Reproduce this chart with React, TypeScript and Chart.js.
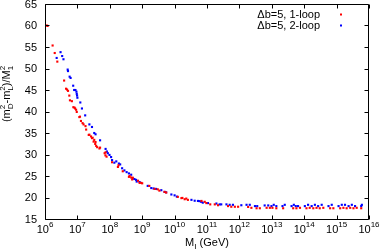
import React, { useEffect, useRef } from "react";
import { Chart, registerables } from "chart.js";

Chart.register(...registerables);

// log10(M_I / GeV) and (mD^2 - mL^2)/M1^2 for the 1-loop series
const oneLoopLogM = [
  6.05, 6.08, 6.235, 6.3, 6.38, 6.59, 6.65, 6.68, 6.71, 6.75, 6.77, 6.83, 6.875, 6.91, 6.93, 6.96, 6.98,
  7.06, 7.08, 7.11, 7.16, 7.19, 7.25, 7.27, 7.35, 7.37, 7.42, 7.45, 7.47, 7.5, 7.52, 7.55, 7.56, 7.58,
  7.61, 7.68, 7.7, 7.84, 7.865, 7.87, 7.9, 8.07, 8.25, 8.27, 8.4, 8.59, 8.61, 8.66, 8.69, 8.71, 8.87,
  8.92, 8.97, 9.0, 9.22, 9.38, 9.48, 9.53, 9.69, 9.74, 10.1, 10.21, 10.24, 10.31, 10.36, 10.41, 10.83,
  10.93, 10.98, 11.1, 11.24, 11.34, 11.65, 11.75, 11.86, 11.96, 12.27, 12.37, 12.53, 12.63, 12.84,
  12.94, 13.02, 13.14, 13.35, 13.66, 13.76, 13.87, 14.07, 14.17, 14.28, 14.38, 14.48, 14.59, 14.8,
  14.9, 15.11, 15.21, 15.31, 15.42, 15.52, 15.62, 15.76,
];
const oneLoopY = [
  60.0, 59.9, 55.35, 53.6, 51.6, 47.2, 45.3, 45.1, 44.8, 43.7, 42.6, 42.4, 41.0, 40.9, 40.7, 40.4, 39.9,
  38.7, 38.8, 37.8, 37.3, 37.0, 36.6, 35.8, 34.55, 34.6, 34.2, 33.8, 33.9, 33.0, 33.4, 32.45, 32.9, 32.0,
  31.7, 31.4, 31.6, 30.3, 29.8, 30.5, 29.5, 28.2, 27.1, 27.5, 26.1, 24.8, 25.0, 24.65, 24.2, 24.6, 23.9,
  23.4, 23.4, 23.3, 22.7, 22.0, 21.9, 21.6, 21.3, 21.15, 20.15, 19.85, 19.9, 19.6, 19.75, 19.45, 19.2,
  19.0, 18.7, 18.4, 18.4, 18.2, 18.0, 17.85, 17.85, 17.85, 17.8, 17.6, 17.5, 17.5, 17.6,
  17.6, 17.6, 17.5, 17.5, 17.5, 17.5, 17.6, 17.5, 17.6, 17.5, 17.6, 17.5, 17.6, 17.5,
  17.5, 17.5, 17.6, 17.5, 17.6, 17.5, 17.6, 17.5,
];

// 2-loop series
const twoLoopLogM = [
  6.36, 6.48, 6.53, 6.57, 6.7, 6.71, 6.76, 6.79, 6.87, 6.9, 6.94, 6.97, 6.98, 6.99, 7.0, 7.09, 7.14,
  7.24, 7.37, 7.45, 7.52, 7.56, 7.7, 7.87, 7.91, 7.94, 7.99, 8.04, 8.07, 8.14, 8.2, 8.28, 8.32, 8.38,
  8.45, 8.52, 8.59, 8.66, 8.71, 8.76, 8.81, 8.83, 8.92, 9.17, 9.28, 9.35, 9.43, 9.59, 9.69, 9.74, 9.9,
  10.0, 10.07, 10.52, 10.62, 10.72, 10.77, 10.82, 10.87, 11.03, 11.29, 11.39, 11.44, 11.6, 11.7, 11.8,
  12.06, 12.22, 12.32, 12.48, 12.55, 12.78, 12.89, 12.99, 13.06, 13.14, 13.33, 13.4, 13.61, 13.68,
  13.74, 13.81, 14.02, 14.12, 14.23, 14.33, 14.43, 14.54, 14.75, 14.85, 15.06, 15.16, 15.26, 15.37,
  15.47, 15.57, 15.76, 15.78,
];
const twoLoopY = [
  52.45, 53.8, 52.9, 52.15, 49.75, 49.4, 48.1, 47.8, 46.0, 45.0, 45.0, 44.6, 44.1, 43.7, 43.2, 42.1, 40.7,
  39.1, 37.0, 36.4, 35.0, 34.7, 33.3, 31.3, 30.7, 30.3, 29.9, 29.4, 28.7, 28.1, 28.4, 27.9, 27.7, 26.8,
  26.3, 25.9, 25.6, 25.3, 24.4, 24.3, 24.1, 23.7, 23.6, 22.7, 22.2, 22.1, 22.0, 21.7, 21.3, 21.2, 20.7,
  20.5, 20.2, 19.45, 19.25, 19.2, 19.15, 19.0, 18.8, 18.7, 18.6, 18.4, 18.4, 18.4, 18.3, 18.3,
  18.2, 18.3, 18.3, 18.0, 18.0, 18.15, 18.15, 18.0, 18.3, 18.0, 18.0, 18.3, 18.0, 18.3,
  18.0, 18.0, 18.0, 18.3, 18.0, 18.3, 18.0, 18.3, 18.0, 18.3, 18.0, 18.3, 18.3, 18.0,
  18.3, 18.0, 18.0, 18.3,
];

const xDecades = [6, 7, 8, 9, 10, 11, 12, 13, 14, 15, 16];
const yTicks = [15, 20, 25, 30, 35, 40, 45, 50, 55, 60, 65];
const seriesLabels = ["\u0394b=5, 1-loop", "\u0394b=5, 2-loop"];
const seriesColors = ["#ff0000", "#0000ff"];

const FONT = "'Liberation Sans', Arial, Helvetica, sans-serif";

type Part = { t: string; sup?: string; sub?: string };

function richWidth(ctx: CanvasRenderingContext2D, parts: Part[], size: number, small: number) {
  let w = 0;
  for (const p of parts) {
    ctx.font = `${size}px ${FONT}`;
    w += ctx.measureText(p.t).width;
    ctx.font = `${small}px ${FONT}`;
    const a = p.sup ? ctx.measureText(p.sup).width : 0;
    const b = p.sub ? ctx.measureText(p.sub).width : 0;
    w += Math.max(a, b);
  }
  return w;
}

function drawRich(
  ctx: CanvasRenderingContext2D,
  parts: Part[],
  x: number,
  y: number,
  size: number,
  small: number,
  supOff: number,
  subOff: number
) {
  // x is the center
  const total = richWidth(ctx, parts, size, small);
  let cx = x - total / 2;
  ctx.textAlign = "left";
  ctx.textBaseline = "alphabetic";
  for (const p of parts) {
    ctx.font = `${size}px ${FONT}`;
    ctx.fillText(p.t, cx, y);
    cx += ctx.measureText(p.t).width;
    ctx.font = `${small}px ${FONT}`;
    let adv = 0;
    if (p.sup) {
      ctx.fillText(p.sup, cx, y - supOff);
      adv = Math.max(adv, ctx.measureText(p.sup).width);
    }
    if (p.sub) {
      ctx.fillText(p.sub, cx, y + subOff);
      adv = Math.max(adv, ctx.measureText(p.sub).width);
    }
    cx += adv;
  }
}

const decorPlugin = {
  id: "decor",
  afterDraw(chart: any) {
    const { ctx, chartArea: a, scales } = chart;
    const xs = scales.x;
    const ys = scales.y;
    const L = Math.round(a.left) + 0.5;
    const R = Math.round(a.right) - 0.5;
    const T = Math.round(a.top) + 0.5;
    const B = Math.round(a.bottom) + 0.5;
    ctx.save();
    ctx.strokeStyle = "#000";
    ctx.fillStyle = "#000";
    ctx.lineWidth = 1;
    ctx.beginPath();
    ctx.rect(L, T, R - L, B - T);
    const tl = 4;
    for (const v of yTicks) {
      const py = Math.round(ys.getPixelForValue(v)) + 0.5;
      ctx.moveTo(L, py);
      ctx.lineTo(L + tl, py);
      ctx.moveTo(R, py);
      ctx.lineTo(R - tl, py);
    }
    for (const d of xDecades) {
      const px = Math.round(xs.getPixelForValue(Math.pow(10, d))) + 0.5;
      ctx.moveTo(px, B);
      ctx.lineTo(px, B - tl);
      ctx.moveTo(px, T);
      ctx.lineTo(px, T + tl);
    }
    ctx.stroke();

    // y tick labels
    ctx.font = `11px ${FONT}`;
    ctx.textAlign = "right";
    ctx.textBaseline = "middle";
    for (const v of yTicks) {
      const py = ys.getPixelForValue(v);
      ctx.fillText(String(v), 37, py + 0.5);
    }
    // x tick labels
    for (const d of xDecades) {
      const px = xs.getPixelForValue(Math.pow(10, d));
      drawRich(ctx, [{ t: "10", sup: String(d) }], px, 233, 11, 8, 6, 3);
    }
    // x title
    drawRich(ctx, [{ t: "M", sub: "I" }, { t: " (GeV)" }], (a.left + a.right) / 2, 246, 11, 8, 6, 3);
    // y title
    ctx.save();
    ctx.translate(10, 94);
    ctx.rotate(-Math.PI / 2);
    drawRich(
      ctx,
      [
        { t: "(m", sup: "2", sub: "D" },
        { t: "-m", sup: "2", sub: "L" },
        { t: ")/M", sup: "2", sub: "1" },
      ],
      0,
      0,
      11,
      8,
      5.5,
      3
    );
    ctx.restore();

    // legend
    ctx.font = `11px ${FONT}`;
    ctx.textAlign = "right";
    ctx.textBaseline = "middle";
    const ly = [14.5, 25.5];
    for (let i = 0; i < 2; i++) {
      ctx.fillStyle = "#000";
      ctx.fillText(seriesLabels[i], 320, ly[i] + 0.5);
      ctx.fillStyle = seriesColors[i];
      ctx.fillRect(340, ly[i] - 1, 2, 2);
    }
    ctx.restore();
  },
};

export default function App() {
  const ref = useRef<HTMLCanvasElement | null>(null);
  useEffect(() => {
    if (!ref.current) return;
    const mk = (lm: number[], ys: number[]) => lm.map((e, i) => ({ x: Math.pow(10, e), y: ys[i] }));
    const chart = new Chart(ref.current, {
      type: "scatter",
      data: {
        datasets: [
          {
            label: seriesLabels[0],
            data: mk(oneLoopLogM, oneLoopY),
            backgroundColor: seriesColors[0],
            borderWidth: 0,
            pointStyle: "rect",
            pointRadius: 1.5,
          },
          {
            label: seriesLabels[1],
            data: mk(twoLoopLogM, twoLoopY),
            backgroundColor: seriesColors[1],
            borderWidth: 0,
            pointStyle: "rect",
            pointRadius: 1.5,
          },
        ],
      },
      plugins: [decorPlugin],
      options: {
        responsive: false,
        animation: false,
        devicePixelRatio: 1,
        layout: { padding: { left: 0, right: 11, top: 4, bottom: 0 } },
        plugins: { legend: { display: false }, tooltip: { enabled: false } },
        scales: {
          x: {
            type: "logarithmic",
            min: 1e6,
            max: 1e16,
            grid: { display: false },
            border: { display: false },
            ticks: { display: false },
            afterBuildTicks: (s: any) => {
              s.ticks = xDecades.map((d) => ({ value: Math.pow(10, d) }));
            },
            afterFit: (s: any) => {
              s.height = 33;
            },
          },
          y: {
            type: "linear",
            min: 15,
            max: 65,
            grid: { display: false },
            border: { display: false },
            ticks: { display: false, stepSize: 5 },
            afterFit: (s: any) => {
              s.width = 45;
            },
          },
        },
      },
    } as any);
    return () => chart.destroy();
  }, []);
  return (
    <div style={{ position: "absolute", left: 0, top: 0, width: 380, height: 252, background: "#fff" }}>
      <canvas ref={ref} width={380} height={252} style={{ width: 380, height: 252 }} />
    </div>
  );
}
